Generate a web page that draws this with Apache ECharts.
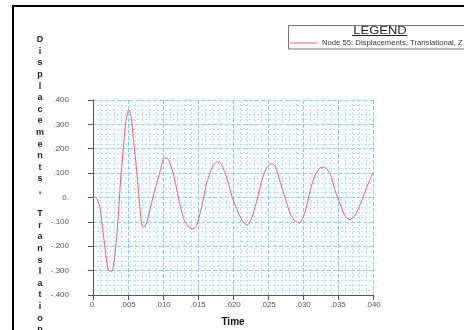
<!DOCTYPE html>
<html>
<head>
<meta charset="utf-8">
<script src="https://cdn.jsdelivr.net/npm/echarts@6/dist/echarts.min.js"></script>
<style>
html,body{margin:0;padding:0;background:#fff;}
#c{width:464px;height:330px;}
</style>
</head>
<body>
<div id="c"></div>
<script>
const seriesName = 'Node 55: Displacements, Translational, Z';
const times = [0, 0.0004, 0.0006, 0.0010, 0.00135, 0.0017, 0.0020, 0.0023, 0.0027, 0.0031, 0.0036, 0.0039, 0.0043, 0.0047, 0.0051, 0.0054, 0.0057, 0.0062, 0.0067, 0.0070, 0.0073, 0.0076, 0.0081, 0.0088, 0.0096, 0.0101, 0.0105, 0.0108, 0.0115, 0.0122, 0.0129, 0.0136, 0.0143, 0.0148, 0.0155, 0.0162, 0.0170, 0.0177, 0.0183, 0.0191, 0.0199, 0.0205, 0.0213, 0.0220, 0.0227, 0.0234, 0.0241, 0.0248, 0.0256, 0.0261, 0.0267, 0.0275, 0.0282, 0.0289, 0.0295, 0.0303, 0.0310, 0.0317, 0.0324, 0.0331, 0.0339, 0.0346, 0.0353, 0.0360, 0.0367, 0.0374, 0.0381, 0.0389, 0.0396, 0.0400];
const displacements = [0, 0, -0.007, -0.041, -0.122, -0.204, -0.272, -0.302, -0.302, -0.245, -0.082, 0.055, 0.191, 0.313, 0.360, 0.340, 0.259, 0.122, -0.041, -0.116, -0.122, -0.109, -0.054, 0.027, 0.109, 0.160, 0.162, 0.155, 0.096, 0.000, -0.082, -0.120, -0.129, -0.116, -0.041, 0.055, 0.122, 0.147, 0.139, 0.082, 0.000, -0.045, -0.095, -0.114, -0.082, -0.014, 0.068, 0.122, 0.139, 0.125, 0.068, -0.007, -0.068, -0.098, -0.104, -0.060, 0.027, 0.089, 0.120, 0.124, 0.096, 0.027, -0.027, -0.075, -0.091, -0.075, -0.034, 0.027, 0.075, 0.102];
const xTickLabels = ['0.', '.005', '.010', '.015', '.020', '.025', '.030', '.035', '.040'];
const yTickLabels = ['-.400', '-.300', '-.200', '-.100', '0.', '.100', '.200', '.300', '.400'];
const xTitle = 'Time';
const yTitle = 'Displacements, Translational, Z';
const legendTitle = 'LEGEND';

const chart = echarts.init(document.getElementById('c'), null, {renderer: 'canvas'});
const font = 'Liberation Sans, Arial, sans-serif';
const majorColor = '#86ccff';
const minorColor = '#b5e2ff';

chart.setOption({
  animation: false,
  backgroundColor: '#fff',
  grid: {left: 93, right: 91, top: 100, bottom: 35, containLabel: false, outerBoundsMode: 'none'},
  legend: {
    left: 290, top: 39, padding: 0, itemWidth: 27, itemHeight: 1, icon: 'rect', itemGap: 5,
    textStyle: {fontSize: 7.7, color: '#333', fontFamily: font, overflow: 'none'},
    data: [seriesName]
  },
  xAxis: {
    type: 'value', min: 0, max: 0.04, interval: 0.005,
    name: xTitle, nameLocation: 'middle', nameGap: 22,
    nameTextStyle: {fontSize: 10, fontWeight: 'bold', color: '#111', fontFamily: font},
    axisLine: {show: true, onZero: false, lineStyle: {color: '#555', width: 1}},
    axisTick: {show: true, length: 5, lineStyle: {color: '#555'}},
    axisLabel: {fontSize: 8, color: '#555', fontFamily: font, margin: 6,
      formatter: v => xTickLabels[Math.round(v / 0.005)]},
    splitLine: {show: true, lineStyle: {color: majorColor, type: [4, 2], width: 1}},
    minorTick: {show: false, splitNumber: 5},
    minorSplitLine: {show: true, lineStyle: {color: minorColor, type: [2, 2], width: 1}}
  },
  yAxis: {
    type: 'value', min: -0.4, max: 0.4, interval: 0.1,
    axisLine: {show: true, onZero: false, lineStyle: {color: '#555', width: 1}},
    axisTick: {show: true, length: 5, lineStyle: {color: '#555'}},
    axisLabel: {fontSize: 8, color: '#555', fontFamily: font, margin: 24,
      formatter: v => yTickLabels[Math.round(v / 0.1) + 4]},
    splitLine: {show: true, lineStyle: {color: majorColor, type: [4, 2], width: 1}},
    minorTick: {show: false, splitNumber: 5},
    minorSplitLine: {show: true, lineStyle: {color: minorColor, type: [2, 2], width: 1}}
  },
  series: [{
    name: seriesName,
    type: 'line',
    data: times.map((t, i) => [t, displacements[i]]),
    showSymbol: false,
    smooth: 0.2,
    lineStyle: {color: '#f0606e', width: 1},
    itemStyle: {color: '#f0606e'}
  }],
  graphic: [
    {type: 'rect', shape: {x: 13, y: 6, width: 520, height: 400}, style: {fill: null, stroke: '#000', lineWidth: 2}, silent: true},
    {type: 'rect', shape: {x: 288.5, y: 25.5, width: 200, height: 23.5}, style: {fill: null, stroke: '#777', lineWidth: 1}, silent: true, z: 10},
    {type: 'text', x: 380, y: 26.5, scaleX: 1.3, style: {text: legendTitle, font: '10px ' + font, fill: '#222', textAlign: 'center', textVerticalAlign: 'top'}, z: 10},
    {type: 'line', shape: {x1: 352, y1: 35.5, x2: 407, y2: 35.5}, style: {stroke: '#222', lineWidth: 1}, z: 10},
    {type: 'text', x: 40, y: 34, style: {text: yTitle.split('').join('\n'), font: 'bold 9px ' + font, fill: '#222', textAlign: 'center', lineHeight: 11.6}, z: 10}
  ]
});
</script>
</body>
</html>
